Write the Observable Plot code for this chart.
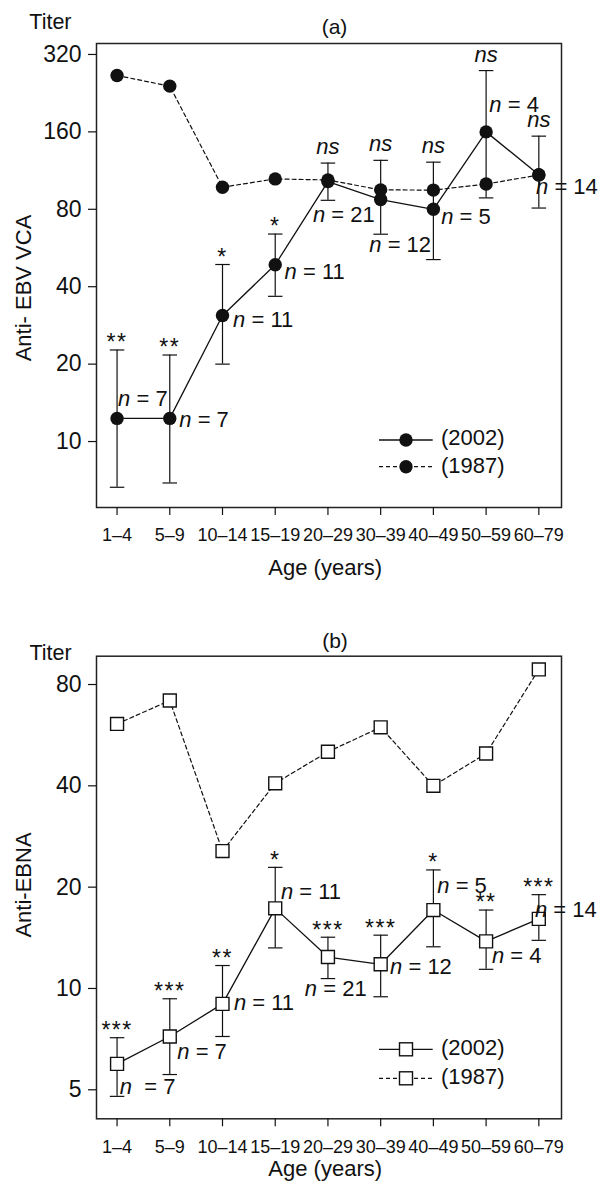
<!DOCTYPE html>
<html><head><meta charset="utf-8">
<script src="https://cdn.jsdelivr.net/npm/d3@7"></script>
<script src="https://cdn.jsdelivr.net/npm/@observablehq/plot@0.6"></script>
<style>
body{margin:0;background:#fff;}
#root{position:relative;width:614px;height:1188px;font-family:"Liberation Sans",Arial,sans-serif;color:#111;}
#root svg{position:absolute;left:0;}
</style></head><body><div id="root"></div>
<script>
// ---------- data ----------
const ages = ["1–4","5–9","10–14","15–19","20–29","30–39","40–49","50–59","60–79"];

const vcaTicks = [10,20,40,80,160,320];
const vca2002   = [12.3, 12.3, 30.9, 48.7, 102.5, 87.3, 80, 160, 109];
const vca2002Hi = [22.7, 21.7, 48.8, 64.1, 121, 124, 122, 277, 154];
const vca2002Lo = [6.64, 6.9, 20, 36.7, 86.7, 64, 51, 88.6, 80.9];
const vca1987   = [265, 241, 97.5, 105, 104, 95.2, 95, 100.3, 108.8];
const vcaN      = [7, 7, 11, 11, 21, 12, 5, 4, 14];
const vcaSig    = ["**","**","*","*","ns","ns","ns","ns","ns"];

const ebnaTicks = [5,10,20,40,80];
const ebna2002   = [5.97, 7.2, 9.0, 17.3, 12.4, 11.8, 17.1, 13.8, 16.1];
const ebna2002Hi = [7.14, 9.32, 11.7, 22.9, 14.2, 14.4, 22.5, 17.1, 19.0];
const ebna2002Lo = [4.78, 5.55, 7.2, 13.2, 10.7, 9.45, 13.3, 11.4, 13.9];
const ebna1987   = [61.1, 71.7, 25.6, 40.7, 50.5, 59.7, 40, 49.9, 88.7];
const ebnaN      = [7, 7, 11, 11, 21, 12, 5, 4, 14];
const ebnaSig    = ["***","***","**","*","***","***","*","**","***"];

// ---------- layout (label offsets in px) ----------
const vcaNOff  = [[1,-19],[9.5,2],[10.6,4.3],[9.4,7.7],[-15,33],[-11.4,45.4],[7.8,7.7],[3.2,-27.4],[-2.8,12.7]];
const ebnaNOff = [[2.7,22.7],[7.5,15],[11.4,-1],[5.7,-16.7],[-23.1,32.3],[9.4,2.7],[3.9,-24.3],[5.9,14.3],[-3.9,-9.3]];

const FONT = "Liberation Sans, Arial, Helvetica, sans-serif";
const INK = "#111";
const capHalf = 0.1375;

function panel(cfg) {
  const rows = ages.map((a, i) => ({
    i, age: a, v: cfg.v2002[i], hi: cfg.hi[i], lo: cfg.lo[i], old: cfg.v1987[i],
    n: (cfg.nPad && i === 0 ? "n  = " : "n = ") + cfg.n[i], sig: cfg.sig[i]
  }));
  const dotOpts = cfg.square
    ? {symbol: "square", r: 7.3, fill: "white", stroke: INK, strokeWidth: 1.4}
    : {r: 6.7, fill: INK, stroke: "none"};
  const marks = [
    Plot.frame({stroke: "#222", strokeWidth: 1.5}),
    Plot.axisY({ticks: cfg.ticks, tickFormat: d => String(d), tickSize: 8, tickPadding: 7, fontSize: 23, label: null, strokeWidth: 1.2}),
    Plot.axisX({ticks: d3.range(ages.length), tickFormat: i => ages[i], tickSize: 8, tickPadding: 13, fontSize: 18, label: null, strokeWidth: 1.2}),
    Plot.line(rows, {x: "i", y: "old", stroke: INK, strokeWidth: 1.2, strokeDasharray: "4,3"}),
    Plot.line(rows, {x: "i", y: "v", stroke: INK, strokeWidth: 1.3}),
    Plot.ruleX(rows, {x: "i", y1: "lo", y2: "hi", stroke: INK, strokeWidth: 1.2}),
    Plot.link(rows, {x1: d => d.i - capHalf, x2: d => d.i + capHalf, y1: "hi", y2: "hi", stroke: INK, strokeWidth: 1.2}),
    Plot.link(rows, {x1: d => d.i - capHalf, x2: d => d.i + capHalf, y1: "lo", y2: "lo", stroke: INK, strokeWidth: 1.2}),
    Plot.dot(rows, {x: "i", y: "old", ...dotOpts}),
    Plot.dot(rows, {x: "i", y: "v", ...dotOpts}),
    Plot.text(rows.filter(d => d.sig !== "ns"), {x: "i", y: "hi", text: "sig", fontSize: 23, dy: -7, fill: INK}),
    Plot.text(rows.filter(d => d.sig === "ns"), {x: "i", y: "hi", text: "sig", fontSize: 22, fontStyle: "italic", dy: -16, fill: INK}),
    ...rows.map((d, k) => Plot.text([d], {x: "i", y: "v", text: "n", textAnchor: "start", fontSize: 22,
      dx: cfg.nOff[k][0], dy: cfg.nOff[k][1], fill: INK}))
  ];
  const svg = Plot.plot({
    width: 614, height: cfg.height,
    marginTop: cfg.mt, marginBottom: cfg.mb, marginLeft: 96, marginRight: 53,
    x: {type: "linear", domain: [-0.39, 8.43]},
    y: {type: "log", base: 2, domain: cfg.domain},
    style: {fontFamily: FONT, background: "transparent", overflow: "visible", color: INK},
    marks
  });
  const ns = "http://www.w3.org/2000/svg";
  svg.querySelectorAll("text").forEach(t => {
    const s = t.textContent;
    if (/^n\s+=/.test(s)) {
      t.textContent = "";
      t.style.whiteSpace = "pre";
      const a = document.createElementNS(ns, "tspan");
      a.setAttribute("font-style", "italic"); a.textContent = "n";
      const b = document.createElementNS(ns, "tspan");
      b.textContent = s.slice(1);
      t.append(a, b);
    } else if (/^\*+$/.test(s)) {
      t.setAttribute("letter-spacing", "1.5");
    }
  });
  svg.style.top = cfg.top + "px";
  return svg;
}

const root = document.getElementById("root");
root.appendChild(panel({
  top: 0, height: 550, mt: 43, mb: 43, domain: [5.54, 353], ticks: vcaTicks,
  v2002: vca2002, hi: vca2002Hi, lo: vca2002Lo, v1987: vca1987, n: vcaN, sig: vcaSig, nOff: vcaNOff, square: false
}));
root.appendChild(panel({
  top: 600, height: 560, mt: 55.7, mb: 41.7, domain: [4.10, 97.1], ticks: ebnaTicks,
  v2002: ebna2002, hi: ebna2002Hi, lo: ebna2002Lo, v1987: ebna1987, n: ebnaN, sig: ebnaSig, nOff: ebnaNOff, square: true, nPad: true
}));

// ---------- annotations overlay ----------
const ov = d3.select(root).append("svg")
  .attr("width", 614).attr("height", 1188)
  .style("top", "0px").style("pointer-events", "none")
  .attr("font-family", FONT).attr("fill", INK);

function addText(x, y, s, size, anchor, rot) {
  const t = ov.append("text").attr("font-size", size).attr("text-anchor", anchor || "start").text(s);
  if (rot) t.attr("transform", `translate(${x},${y}) rotate(-90)`);
  else t.attr("x", x).attr("y", y);
  return t;
}
// panel a
addText(29.3, 29.3, "Titer", 21.5);
addText(334.5, 33.9, "(a)", 21, "middle");
addText(31.3, 288, "Anti- EBV VCA", 22, "middle", true);
addText(325.2, 575, "Age (years)", 22, "middle");
// panel b
addText(29.4, 660, "Titer", 21.5);
addText(335, 648.3, "(b)", 21, "middle");
addText(31.3, 885, "Anti-EBNA", 22, "middle", true);
addText(325.2, 1176, "Age (years)", 22, "middle");

// legends
function legend(y1, y2, square, tb1, tb2) {
  const rowsL = [[y1, null, "(2002)", tb1], [y2, "4,3", "(1987)", tb2]];
  rowsL.forEach(([y, dash, label, tb]) => {
    ov.append("line").attr("x1", 379).attr("x2", 432.7).attr("y1", y).attr("y2", y)
      .attr("stroke", INK).attr("stroke-width", 1.3).attr("stroke-dasharray", dash);
    if (square) {
      ov.append("rect").attr("x", 406 - 6.5).attr("y", y - 6.5).attr("width", 13).attr("height", 13)
        .attr("fill", "white").attr("stroke", INK).attr("stroke-width", 1.4);
    } else {
      ov.append("circle").attr("cx", 406).attr("cy", y).attr("r", 6.7).attr("fill", INK);
    }
    addText(441, tb, label, 22);
  });
}
legend(440, 466.7, false, 445.4, 472.7);
legend(1049.3, 1078.3, true, 1054.7, 1083.7);
</script>
</body></html>
